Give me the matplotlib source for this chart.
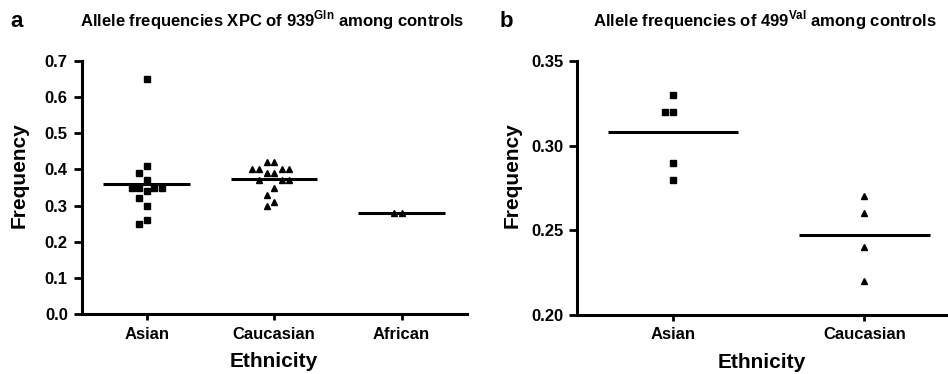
import numpy as np
import matplotlib
matplotlib.use("Agg")
import matplotlib.pyplot as plt

plt.rcParams['font.family'] = ['Liberation Sans', 'DejaVu Sans']
plt.rcParams['font.weight'] = 'bold'
plt.rcParams['mathtext.fontset'] = 'custom'
plt.rcParams['mathtext.rm'] = 'Liberation Sans:bold'
plt.rcParams['mathtext.bf'] = 'Liberation Sans:bold'

# panel a: XPC 939Gln allele frequency among controls
groups_a = ['Asian', 'Caucasian', 'African']
asian_a = [0.65, 0.41, 0.39, 0.37, 0.35, 0.35, 0.35, 0.35, 0.34, 0.32, 0.30, 0.26, 0.25]
caucasian_a = [0.42, 0.42, 0.40, 0.40, 0.40, 0.40, 0.39, 0.39, 0.37, 0.37, 0.37,
               0.35, 0.33, 0.31, 0.30]
african_a = [0.28, 0.28]
yticks_a = [0.0, 0.1, 0.2, 0.3, 0.4, 0.5, 0.6, 0.7]

# panel b: 499Val allele frequency among controls
groups_b = ['Asian', 'Caucasian']
asian_b = [0.33, 0.32, 0.32, 0.29, 0.28]
caucasian_b = [0.27, 0.26, 0.24, 0.22]
yticks_b = [0.20, 0.25, 0.30, 0.35]


def swarm_x(ax, xc, values, step_px=7.4, gap_px=8.0):
    # simple beeswarm: put each point in the nearest free column
    bb = ax.bbox
    x0, x1 = ax.get_xlim()
    y0, y1 = ax.get_ylim()
    ppx = bb.width / (x1 - x0)
    ppy = bb.height / (y1 - y0)
    placed = []
    xs = []
    for v in values:
        for c in [0, -1, 1, -2, 2, -3, 3, -4, 4]:
            if all(not (cc == c and abs(v - vv) * ppy < gap_px) for cc, vv in placed):
                break
        placed.append((c, v))
        xs.append(xc + c * step_px / ppx)
    return xs


def style(ax, yticks, fmt):
    for s in ['top', 'right']:
        ax.spines[s].set_visible(False)
    for s in ['left', 'bottom']:
        ax.spines[s].set_linewidth(2.2)
    ax.set_yticks(yticks)
    ax.set_yticklabels([fmt % t for t in yticks])
    ax.tick_params(axis='y', length=6, width=2, pad=4, labelsize=12)
    ax.tick_params(axis='x', length=4, width=2, pad=5, labelsize=12)
    ax.set_ylabel('Frequency', fontsize=15, fontweight='bold')
    ax.set_xlabel('Ethnicity', fontsize=15, fontweight='bold')


fig = plt.figure(figsize=(9.48, 3.74), dpi=100)
ax1 = fig.add_axes([0.0862, 0.1604, 0.406, 0.6765])
ax2 = fig.add_axes([0.6087, 0.1578, 0.39, 0.679])

# panel a
ax1.set_xlim(-0.51, 2.51)
ax1.set_ylim(0, 0.7)
series_a = [(asian_a, 's'), (caucasian_a, '^'), (african_a, '^')]
for i, (vals, mk) in enumerate(series_a):
    xs = swarm_x(ax1, i, vals)
    ax1.plot(xs, vals, linestyle='none', marker=mk, ms=4.5, color='black', clip_on=False)
    m = np.mean(vals)
    ax1.plot([i - 0.34, i + 0.34], [m, m], color='black', lw=2.2, solid_capstyle='butt')
ax1.set_xticks(range(len(groups_a)))
ax1.set_xticklabels(groups_a)
style(ax1, yticks_a, '%.1f')
ax1.yaxis.set_label_coords(-0.137, 0.55)
ax1.xaxis.set_label_coords(0.5, -0.15)

# panel b
ax2.set_xlim(-0.50, 1.43)
ax2.set_ylim(0.20, 0.35)
series_b = [(asian_b, 's'), (caucasian_b, '^')]
for i, (vals, mk) in enumerate(series_b):
    xs = swarm_x(ax2, i, vals)
    ax2.plot(xs, vals, linestyle='none', marker=mk, ms=4.5, color='black', clip_on=False)
    m = np.mean(vals)
    ax2.plot([i - 0.34, i + 0.34], [m, m], color='black', lw=2.2, solid_capstyle='butt')
ax2.set_xticks(range(len(groups_b)))
ax2.set_xticklabels(groups_b)
style(ax2, yticks_b, '%.2f')
ax2.yaxis.set_label_coords(-0.151, 0.55)
ax2.xaxis.set_label_coords(0.5, -0.15)

# titles and panel letters
fig.text(0.2875, 0.929, r'Allele frequencies XPC of 939$^{\mathbf{Gln}}$ among controls',
         ha='center', va='baseline', fontsize=12, fontweight='bold')
fig.text(0.807, 0.929, r'Allele frequencies of 499$^{\mathbf{Val}}$ among controls',
         ha='center', va='baseline', fontsize=12, fontweight='bold')
fig.text(0.011, 0.929, 'a', fontsize=16, fontweight='bold', va='baseline')
fig.text(0.527, 0.929, 'b', fontsize=16, fontweight='bold', va='baseline')

fig.savefig('out.png', dpi=100)
